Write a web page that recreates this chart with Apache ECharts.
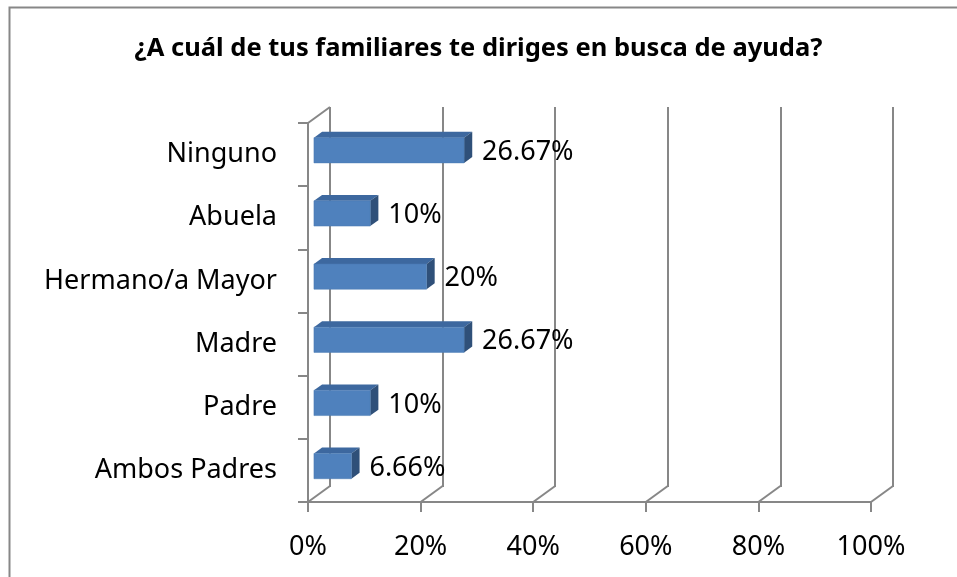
<!DOCTYPE html>
<html>
<head>
<meta charset="utf-8">
<title>¿A cuál de tus familiares te diriges en busca de ayuda?</title>
<script src="https://cdn.jsdelivr.net/npm/echarts@6/dist/echarts.min.js"></script>
<style>
    html, body { margin: 0; padding: 0; background: #fff; }
    #chart { width: 957px; height: 577px; }
</style>
</head>
<body>
<div id="chart"></div>
<script>
// datos (de abajo hacia arriba, como los pinta el eje de categorías)
const categorias = ['Ambos Padres', 'Padre', 'Madre', 'Hermano/a Mayor', 'Abuela', 'Ninguno'];
const porcentajes = [6.66, 10, 26.67, 20, 10, 26.67];
const etiquetas = ['6.66%', '10%', '26.67%', '20%', '10%', '26.67%'];
const ticksX = [0, 20, 40, 60, 80, 100];

// desplazamiento del plano trasero (efecto 3D)
const DX = 22, DY = -16;
// profundidad de la barra dentro de la caja
const F0 = 0.27, F1 = 0.64;

const gris = '#878787';
const fuente = 'Noto Sans';

const chart = echarts.init(document.getElementById('chart'));

// barras con cara frontal, superior y lateral
const renderBar = (params, api) => {
    const v = api.value(0);
    const cat = api.value(1);
    const p0 = api.coord([0, cat]);
    const p1 = api.coord([v, cat]);
    const h = api.size([0, 1])[1] * 0.4;
    const fx = DX * F0, fy = DY * F0;
    const bx = DX * (F1 - F0), by = DY * (F1 - F0);
    const x0 = p0[0] + fx, x1 = p1[0] + fx;
    const yc = p0[1] + fy;
    const yt = yc - h / 2, yb = yc + h / 2;
    return {
        type: 'group',
        children: [
            {
                type: 'polygon',
                shape: { points: [[x0, yt], [x1, yt], [x1 + bx, yt + by], [x0 + bx, yt + by]] },
                style: { fill: '#3d689f' }
            },
            {
                type: 'polygon',
                shape: { points: [[x1, yt], [x1 + bx, yt + by], [x1 + bx, yb + by], [x1, yb]] },
                style: { fill: '#2f5079' }
            },
            {
                type: 'rect',
                shape: { x: x0, y: yt, width: x1 - x0, height: h },
                style: { fill: '#4f81bd', stroke: '#4a7ab3', lineWidth: 0.5 }
            },
            {
                type: 'text',
                style: {
                    text: etiquetas[params.dataIndex],
                    x: x1 + 18,
                    y: yc + 2,
                    verticalAlign: 'middle',
                    fill: '#000',
                    fontFamily: fuente,
                    fontSize: 27
                }
            }
        ]
    };
};

// diagonales del suelo y de la pared izquierda
const renderFloor = (params, api) => {
    const cs = params.coordSys;
    const x = api.coord([api.value(0), 0])[0];
    const yb = cs.y + cs.height;
    const children = [{
        type: 'line',
        shape: { x1: x, y1: yb, x2: x + DX, y2: yb + DY },
        style: { stroke: gris, lineWidth: 2 }
    }];
    if (params.dataIndex === 0) {
        children.push({
            type: 'line',
            shape: { x1: cs.x, y1: cs.y, x2: cs.x + DX, y2: cs.y + DY },
            style: { stroke: gris, lineWidth: 2 }
        });
    }
    return { type: 'group', children: children };
};

const option = {
    backgroundColor: '#fff',
    animation: false,
    title: {
        text: '¿A cuál de tus familiares te diriges en busca de ayuda?',
        left: 'center',
        top: 31,
        textStyle: {
            fontFamily: fuente,
            fontWeight: 'bold',
            fontSize: 25.5,
            color: '#000'
        }
    },
    graphic: [{
        type: 'rect',
        shape: { x: 9.5, y: 7.5, width: 1000, height: 1000 },
        style: { fill: 'none', stroke: gris, lineWidth: 2 },
        silent: true
    }],
    grid: [
        // plano frontal
        { left: 308, right: 86, top: 123, bottom: 75 },
        // plano trasero
        { left: 330, right: 64, top: 107, bottom: 90 }
    ],
    xAxis: [
        {
            type: 'value',
            gridIndex: 0,
            min: 0,
            max: 100,
            interval: 20,
            axisLine: { show: true, lineStyle: { color: gris, width: 2 } },
            axisTick: { show: true, length: 10, lineStyle: { color: gris, width: 2 } },
            splitLine: { show: false },
            axisLabel: {
                formatter: '{value}%',
                margin: 32,
                color: '#000',
                fontFamily: fuente,
                fontSize: 27
            }
        },
        {
            type: 'value',
            gridIndex: 1,
            min: 0,
            max: 100,
            interval: 20,
            axisLine: { show: false },
            axisTick: { show: false },
            axisLabel: { show: false },
            splitLine: { show: true, lineStyle: { color: gris, width: 2 } }
        }
    ],
    yAxis: [
        {
            type: 'category',
            gridIndex: 0,
            data: categorias,
            axisLine: { show: true, lineStyle: { color: gris, width: 2 } },
            axisTick: { show: true, length: 10, lineStyle: { color: gris, width: 2 } },
            axisLabel: {
                margin: 31,
                padding: [4, 0, 0, 0],
                color: '#000',
                fontFamily: fuente,
                fontSize: 27
            }
        },
        {
            type: 'category',
            gridIndex: 1,
            data: categorias,
            show: false
        }
    ],
    series: [
        {
            type: 'custom',
            name: 'suelo',
            xAxisIndex: 0,
            yAxisIndex: 0,
            silent: true,
            clip: false,
            renderItem: renderFloor,
            data: ticksX.map(t => [t, 0])
        },
        {
            type: 'custom',
            name: 'Porcentaje',
            xAxisIndex: 0,
            yAxisIndex: 0,
            clip: false,
            renderItem: renderBar,
            data: porcentajes.map((v, i) => [v, i])
        }
    ]
};

chart.setOption(option);
</script>
</body>
</html>
